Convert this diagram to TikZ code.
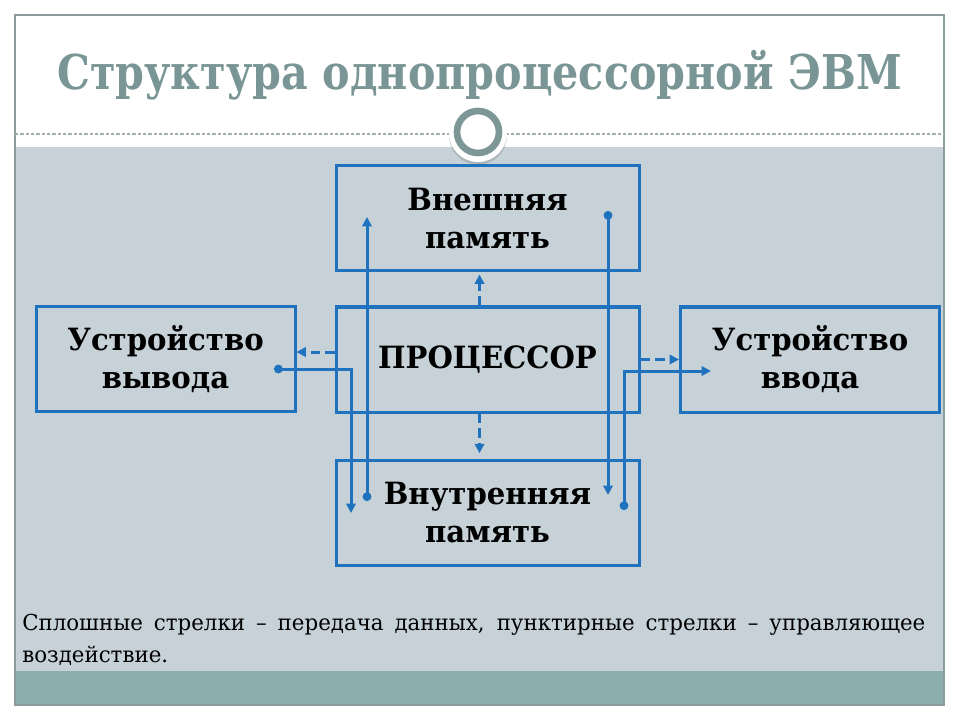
\documentclass[tikz,border=0pt]{standalone}
\usepackage{fontspec}
\setmainfont{DejaVu Serif}[FakeStretch=0.97]
\newfontfamily\headfont{DejaVu Serif}[FakeStretch=0.86]
\newfontfamily\boxfont{DejaVu Serif}[FakeStretch=0.95]
\usetikzlibrary{arrows.meta,shadows}
\definecolor{boxblue}{RGB}{30,114,190}
\definecolor{slidebg}{RGB}{198,210,216}
\definecolor{slideband}{RGB}{139,173,173}
\definecolor{titlegray}{RGB}{122,149,149}
\definecolor{framegray}{RGB}{140,155,155}
\definecolor{ringgray}{RGB}{125,150,150}
\tikzset{
	bx/.style={draw=boxblue, line width=2.25pt, minimum width=227.25pt, minimum height=78.75pt,
		inner sep=0pt, align=center, font=\boxfont\fontsize{23}{28.5}\selectfont\bfseries},
	dev/.style={bx, minimum width=194.25pt},
	ctl/.style={draw=boxblue, line width=2.25pt, dash pattern=on 7pt off 4pt,
		-{Triangle[length=7pt,width=7pt]}},
	dat/.style={draw=boxblue, line width=2.25pt,
		{Circle[length=6.5pt]}-{Triangle[length=7pt,width=7pt]}},
}
\begin{document}
\begin{tikzpicture}[x=0.75pt,y=-0.75pt]
	\useasboundingbox (0,0) rectangle (960,720);

	\fill [white] (15,15) rectangle (944,705);
	\fill [slidebg] (15,147) rectangle (944,671);
	\fill [slideband] (15,671) rectangle (944,704);
	\draw [framegray, line width=1.1pt] (15,15) rectangle (944,705);
	\draw [framegray!80, line width=0.8pt, dash pattern=on 2.5pt off 1.5pt] (15,134) -- (944,134);

	\fill [white, drop shadow={opacity=0.35, shadow xshift=0pt, shadow yshift=-2pt}] (478,133) circle (29);
	\draw [ringgray, line width=5pt] (478,132) circle (21);

	\node [font=\headfont\fontsize{36}{44}\selectfont\bfseries, text=titlegray, anchor=base] (title) at (479.5,90)
		{Структура однопроцессорной ЭВМ};

	\node [bx] (ext) at (487.5,218.5) {Внешняя\\память};
	\node [bx] (cpu) at (487.5,359.5) {ПРОЦЕССОР};
	\node [bx] (ram) at (487.5,512.5) {Внутренняя\\память};
	\node [dev] (out) at (165.5,359) {Устройство\\вывода};
	\node [dev] (in) at (810,359.5) {Устройство\\ввода};

	\coordinate (cpuw) at ([yshift=5.6pt]cpu.west);
	\draw [ctl] ([xshift=-6pt]cpu.north) -- ([xshift=-6pt,yshift=-1.5pt]ext.south);
	\draw [ctl] ([xshift=-6pt]cpu.south) -- ([xshift=-6pt,yshift=4pt]ram.north);
	\draw [ctl] (cpuw) -- (out.east |- cpuw);
	\draw [ctl] (cpu.east) -- (in.west);

	\coordinate (ramup) at (367,501);
	\coordinate (extup) at (367,217);
	\coordinate (extdn) at (608,211);
	\coordinate (ramdn) at (608,495);
	\coordinate (outsrc) at (274,369);
	\coordinate (ramout) at (351,513);
	\coordinate (raminp) at (624,510);
	\coordinate (insink) at (711,371);

	\draw [dat] (ramup) -- (extup);
	\draw [dat] (extdn) -- (ramdn);
	\draw [dat] (outsrc) -| (ramout);
	\draw [dat] (raminp) |- (insink);

	\node [anchor=north west, text width=677.25pt, align=justify, inner sep=0pt,
		font=\fontsize{16.5}{24}\selectfont] (note) at (22,614)
		{Сплошные стрелки – передача данных, пунктирные стрелки – управляющее\linebreak воздействие.};
\end{tikzpicture}
\end{document}
